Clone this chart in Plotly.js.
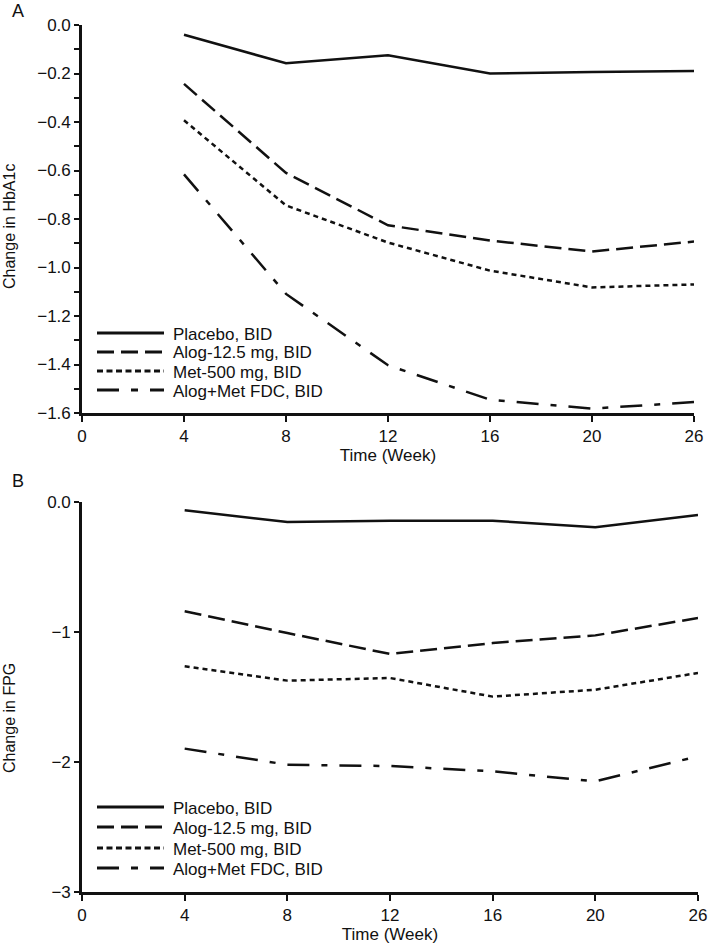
<!DOCTYPE html>
<html>
<head>
<meta charset="utf-8">
<script src="https://cdn.plot.ly/plotly-3.0.1.min.js"></script>
<style>html,body{margin:0;padding:0;background:#fff;}#chart{width:709px;height:944px;}</style>
</head>
<body>
<div id="chart"></div>
<script>
// ---- data ----
const weekTicks = ["0", "4", "8", "12", "16", "20", "26"];
const weeks = ["4", "8", "12", "16", "20", "26"];
const seriesNames = ["Placebo, BID", "Alog-12.5 mg, BID", "Met-500 mg, BID", "Alog+Met FDC, BID"];

// Panel A: change in HbA1c
const hba1cPlacebo = [-0.04, -0.158, -0.125, -0.20, -0.194, -0.19];
const hba1cAlog    = [-0.243, -0.61, -0.826, -0.889, -0.934, -0.893];
const hba1cMet     = [-0.393, -0.744, -0.897, -1.013, -1.082, -1.07];
const hba1cFDC     = [-0.616, -1.109, -1.403, -1.545, -1.582, -1.555];

// Panel B: change in FPG
const fpgPlacebo = [-0.064, -0.154, -0.144, -0.144, -0.195, -0.10];
const fpgAlog    = [-0.841, -1.008, -1.169, -1.085, -1.026, -0.892];
const fpgMet     = [-1.264, -1.374, -1.354, -1.497, -1.444, -1.315];
const fpgFDC     = [-1.897, -2.021, -2.031, -2.072, -2.149, -1.956];

const hba1cTickVals = [0, -0.2, -0.4, -0.6, -0.8, -1.0, -1.2, -1.4, -1.6];
const hba1cTickText = ["0.0", "\u22120.2", "\u22120.4", "\u22120.6", "\u22120.8", "\u22121.0", "\u22121.2", "\u22121.4", "\u22121.6"];
const fpgTickVals = [0, -1, -2, -3];
const fpgTickText = ["0.0", "\u22121", "\u22122", "\u22123"];

// ---- styles ----
const dashes = ["solid", "17px,7px", "5px,4px", "22px,12px,6px,12px"];
const legendDashes = ["solid", "17px,7px", "6px,3.5px", "22px,12px,7px,12px"];
const FONT = "Liberation Sans, Arial, sans-serif";
const FS = 17;
const W = 709, H = 944, ML = 82, MR = 11, MT = 25, MB = 52;
const PW = W - ML - MR, PH = H - MT - MB;
const px2x = p => (p - ML) / PW;
const px2y = p => (H - MB - p) / PH;

const hba1cSeries = [hba1cPlacebo, hba1cAlog, hba1cMet, hba1cFDC];
const fpgSeries = [fpgPlacebo, fpgAlog, fpgMet, fpgFDC];

const traces = [];
hba1cSeries.forEach((ys, i) => traces.push({
  x: weeks, y: ys, type: 'scatter', mode: 'lines', name: seriesNames[i],
  xaxis: 'x', yaxis: 'y', showlegend: false,
  line: {color: '#111', width: 2.5, dash: dashes[i]}
}));
fpgSeries.forEach((ys, i) => traces.push({
  x: weeks, y: ys, type: 'scatter', mode: 'lines', name: seriesNames[i],
  xaxis: 'x2', yaxis: 'y2', showlegend: false,
  line: {color: '#111', width: 2.5, dash: dashes[i]}
}));

// custom legends (long samples like the reference)
const shapes = [], annotations = [];
const legendRowsA = [333, 352, 371, 390];
const legendRowsB = [807, 827, 848, 868];
[legendRowsA, legendRowsB].forEach(rows => {
  rows.forEach((ry, i) => {
    shapes.push({type: 'line', xref: 'paper', yref: 'paper',
      x0: px2x(97), x1: px2x(164), y0: px2y(ry), y1: px2y(ry),
      line: {color: '#111', width: 2.8, dash: legendDashes[i]}});
    annotations.push({xref: 'paper', yref: 'paper', x: px2x(171), y: px2y(ry + 1),
      xanchor: 'left', yanchor: 'middle', showarrow: false, text: seriesNames[i],
      font: {family: FONT, size: FS, color: '#111'}});
  });
});
// panel letters
annotations.push({xref: 'paper', yref: 'paper', x: px2x(10), y: px2y(11), xanchor: 'left', yanchor: 'middle',
  showarrow: false, text: 'A', font: {family: FONT, size: 18, color: '#111'}});
annotations.push({xref: 'paper', yref: 'paper', x: px2x(10), y: px2y(481), xanchor: 'left', yanchor: 'middle',
  showarrow: false, text: 'B', font: {family: FONT, size: 18, color: '#111'}});
// y titles
annotations.push({xref: 'paper', yref: 'paper', x: px2x(9), y: px2y(227), xanchor: 'center', yanchor: 'middle',
  textangle: -90, showarrow: false, text: 'Change in HbA1c', font: {family: FONT, size: 16, color: '#111'}});
annotations.push({xref: 'paper', yref: 'paper', x: px2x(9), y: px2y(718), xanchor: 'center', yanchor: 'middle',
  textangle: -90, showarrow: false, text: 'Change in FPG', font: {family: FONT, size: 16, color: '#111'}});

const xCommon = {
  type: 'category', categoryorder: 'array', categoryarray: weekTicks,
  tickvals: weekTicks, ticktext: weekTicks, range: [0, 6],
  showline: true, linewidth: 2.8, linecolor: '#111', mirror: false,
  ticks: 'outside', ticklen: 6, tickwidth: 2, tickcolor: '#111',
  showgrid: false, zeroline: false,
  tickfont: {family: FONT, size: FS, color: '#111'},
  title: {text: 'Time (Week)', font: {family: FONT, size: FS, color: '#111'}, standoff: 3}
};

const layout = {
  width: W, height: H,
  margin: {l: ML, r: MR, t: MT, b: MB},
  paper_bgcolor: '#fff', plot_bgcolor: '#fff',
  showlegend: false,
  xaxis: Object.assign({}, xCommon, {domain: [0, (694 - ML) / PW], anchor: 'y'}),
  xaxis2: Object.assign({}, xCommon, {domain: [0, 1], anchor: 'y2'}),
  yaxis: {
    domain: [px2y(413), 1], anchor: 'x', range: [-1.6, 0],
    tickvals: hba1cTickVals, ticktext: hba1cTickText,
    showline: true, linewidth: 2.8, linecolor: '#111',
    ticks: 'outside', ticklen: 5, tickwidth: 2, tickcolor: '#111',
    minor: {dtick: 0.1, tick0: 0, ticks: 'outside', ticklen: 5, tickwidth: 2, tickcolor: '#111', showgrid: false},
    showgrid: false, zeroline: false,
    tickfont: {family: FONT, size: FS, color: '#111'}
  },
  yaxis2: {
    domain: [0, px2y(502)], anchor: 'x2', range: [-3, 0],
    tickvals: fpgTickVals, ticktext: fpgTickText,
    showline: true, linewidth: 2.8, linecolor: '#111',
    ticks: 'outside', ticklen: 5, tickwidth: 2, tickcolor: '#111',
    showgrid: false, zeroline: false,
    tickfont: {family: FONT, size: FS, color: '#111'}
  },
  shapes: shapes,
  annotations: annotations
};

Plotly.newPlot('chart', traces, layout, {displayModeBar: false, staticPlot: true});
</script>
</body>
</html>
